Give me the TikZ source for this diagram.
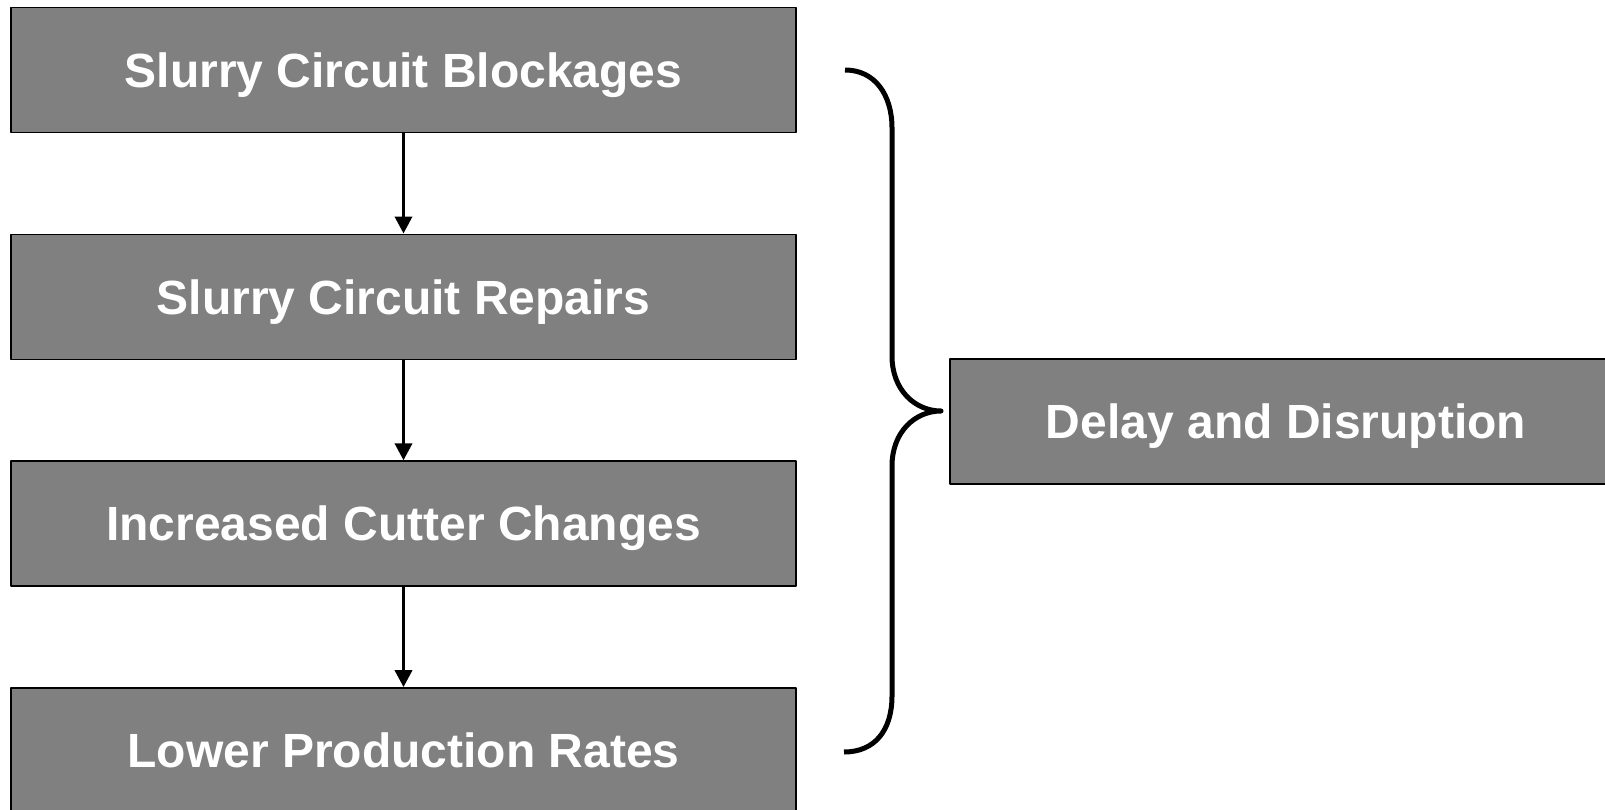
\documentclass[tikz,border=0pt]{standalone}
\usepackage{fontspec}
\setmainfont{Liberation Sans}
\usetikzlibrary{arrows.meta}
\tikzset{
  causebox/.style={draw=black, line width=1.5pt, fill=black!50,
    minimum width=785pt, minimum height=125pt, inner sep=0pt,
    text height=34.4pt, text depth=0pt,
    font=\fontsize{48}{58}\selectfont\bfseries, text=white},
  flow/.style={line width=3.5pt, -{Triangle[length=17pt,width=17pt]}}
}
\begin{document}
\begin{tikzpicture}[x=1pt, y=-1pt, line join=round]
  \useasboundingbox (0,0) rectangle (1605,810);
  % chain of causes
  \node[causebox] (blk) at (403.5,70) {Slurry Circuit Blockages};
  \node[causebox] (rep) at (403.5,296.8) {Slurry Circuit Repairs};
  \node[causebox] (cut) at (403.5,523.6) {Increased Cutter Changes};
  \node[causebox] (low) at (403.5,750.4) {Lower Production Rates};
  \node[causebox, minimum width=672pt] (dly) at (1286,421.5) {Delay and Disruption};
  \draw[flow] (blk) -- (rep);
  \draw[flow] (rep) -- (cut);
  \draw[flow] (cut) -- (low);
  % brace
  \coordinate (top) at (845,70);
  \coordinate (tip) at (941,411);
  \coordinate (bot) at (844,752);
  \draw[line width=5pt] (top) .. controls (875,70) and (892,95) .. (892,128)
    -- (892,356) .. controls (892,390) and (915,411) .. (tip)
    .. controls (915,411) and (892,432) .. (892,466)
    -- (892,696) .. controls (892,730) and (875,752) .. (bot);
\end{tikzpicture}
\end{document}
